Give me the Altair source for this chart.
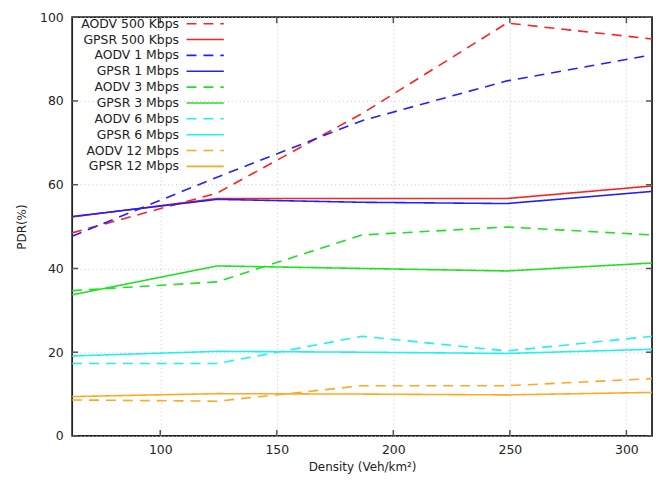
import altair as alt
import pandas as pd

density = [62.2, 124.4, 186.6, 248.8, 311.0]

series_names = [
    "AODV 500 Kbps", "GPSR 500 Kbps",
    "AODV 1 Mbps", "GPSR 1 Mbps",
    "AODV 3 Mbps", "GPSR 3 Mbps",
    "AODV 6 Mbps", "GPSR 6 Mbps",
    "AODV 12 Mbps", "GPSR 12 Mbps",
]
series_colors = [
    "#ff2020", "#ff2020",
    "#2020ff", "#2020ff",
    "#20e020", "#20e020",
    "#20f0f0", "#20f0f0",
    "#ffa820", "#ffa820",
]

aodv_500k = [48.5, 58.0, 77.0, 98.6, 94.8]
gpsr_500k = [52.3, 56.7, 56.7, 56.7, 59.7]
aodv_1m = [47.7, 61.8, 75.3, 84.8, 91.0]
gpsr_1m = [52.4, 56.5, 55.8, 55.5, 58.4]
aodv_3m = [34.7, 36.8, 48.0, 49.9, 48.0]
gpsr_3m = [33.7, 40.6, 40.0, 39.4, 41.3]
aodv_6m = [17.3, 17.3, 23.8, 20.3, 23.8]
gpsr_6m = [19.1, 20.2, 20.0, 19.7, 20.7]
aodv_12m = [8.6, 8.3, 12.0, 12.0, 13.7]
gpsr_12m = [9.4, 10.1, 10.0, 9.8, 10.4]

all_values = [aodv_500k, gpsr_500k, aodv_1m, gpsr_1m, aodv_3m,
              gpsr_3m, aodv_6m, gpsr_6m, aodv_12m, gpsr_12m]

x_ticks = [100, 150, 200, 250, 300]
y_ticks = [0, 20, 40, 60, 80, 100]

rows = []
for name, vals in zip(series_names, all_values):
    for d, v in zip(density, vals):
        rows.append({"series": name, "protocol": name.split()[0],
                     "density": d, "pdr": v})
df = pd.DataFrame(rows)

legend_df = pd.DataFrame({
    "series": series_names,
    "protocol": [s.split()[0] for s in series_names],
    "idx": list(range(len(series_names))),
})

W, H = 583, 421
FONT = "DejaVu Sans"

xscale = alt.Scale(domain=[density[0], density[-1]], nice=False, zero=False)
yscale = alt.Scale(domain=[0, 100], nice=False)
color_scale = alt.Scale(domain=series_names, range=series_colors)
dash_scale = alt.Scale(domain=["AODV", "GPSR"], range=[[10, 7], [1, 0]])

x_axis = alt.Axis(title="Density (Veh/km²)", values=x_ticks,
                  grid=True, gridDash=[1, 3], gridColor="#c8c8c8",
                  ticks=False, domain=False, labelPadding=8,
                  titlePadding=5, labelFont=FONT, titleFont=FONT,
                  labelFontSize=12.5, titleFontSize=12,
                  titleFontWeight="normal", labelColor="#222",
                  titleColor="#222")
y_axis = alt.Axis(title="PDR(%)", values=y_ticks,
                  grid=True, gridDash=[1, 3], gridColor="#c8c8c8",
                  ticks=False, domain=False, labelPadding=9,
                  titlePadding=11, labelFont=FONT, titleFont=FONT,
                  labelFontSize=12.5, titleFontSize=12,
                  titleFontWeight="normal", labelColor="#222",
                  titleColor="#222")

lines = alt.Chart(df).mark_line(strokeWidth=1.6).encode(
    x=alt.X("density:Q", scale=xscale, axis=x_axis),
    y=alt.Y("pdr:Q", scale=yscale, axis=y_axis),
    color=alt.Color("series:N", scale=color_scale, legend=None),
    strokeDash=alt.StrokeDash("protocol:N", scale=dash_scale, legend=None),
    detail="series:N",
)

xt = pd.DataFrame({"t": x_ticks})
yt = pd.DataFrame({"t": y_ticks})
tick_color = "#555"
xtick_bottom = alt.Chart(xt).mark_rule(color=tick_color, strokeWidth=1.5).encode(
    x=alt.X("t:Q", scale=xscale, axis=x_axis), y=alt.value(H), y2=alt.value(H - 6))
xtick_top = alt.Chart(xt).mark_rule(color=tick_color, strokeWidth=1.5).encode(
    x=alt.X("t:Q", scale=xscale, axis=x_axis), y=alt.value(0), y2=alt.value(6))
ytick_left = alt.Chart(yt).mark_rule(color=tick_color, strokeWidth=1.5).encode(
    y=alt.Y("t:Q", scale=yscale, axis=y_axis), x=alt.value(0), x2=alt.value(6))
ytick_right = alt.Chart(yt).mark_rule(color=tick_color, strokeWidth=1.5).encode(
    y=alt.Y("t:Q", scale=yscale, axis=y_axis), x=alt.value(W), x2=alt.value(W - 6))

main_layer = alt.layer(lines, xtick_bottom, xtick_top, ytick_left, ytick_right)

leg_y = alt.Y("idx:Q", scale=alt.Scale(domain=[0, 9], range=[6.5, 150]), axis=None)
legend_text = alt.Chart(legend_df).mark_text(
    align="right", baseline="middle", font=FONT, fontSize=12.5, color="#222"
).encode(y=leg_y, x=alt.value(107.5), text="series:N")
legend_lines = alt.Chart(legend_df).mark_rule(strokeWidth=1.6).encode(
    y=leg_y, x=alt.value(115), x2=alt.value(152.5),
    color=alt.Color("series:N", scale=color_scale, legend=None),
    strokeDash=alt.StrokeDash("protocol:N", scale=dash_scale, legend=None),
)

legend_layer = alt.layer(legend_text, legend_lines)

chart = alt.layer(main_layer, legend_layer).resolve_scale(
    y="independent"
).properties(
    width=W, height=H,
    autosize=alt.AutoSizeParams(type="none"),
    padding={"left": 64.5, "top": 8, "right": 4, "bottom": 37},
).configure_view(stroke="#222", strokeWidth=1.8)

chart.save("out.html", embed_options={"renderer": "svg", "actions": False})
